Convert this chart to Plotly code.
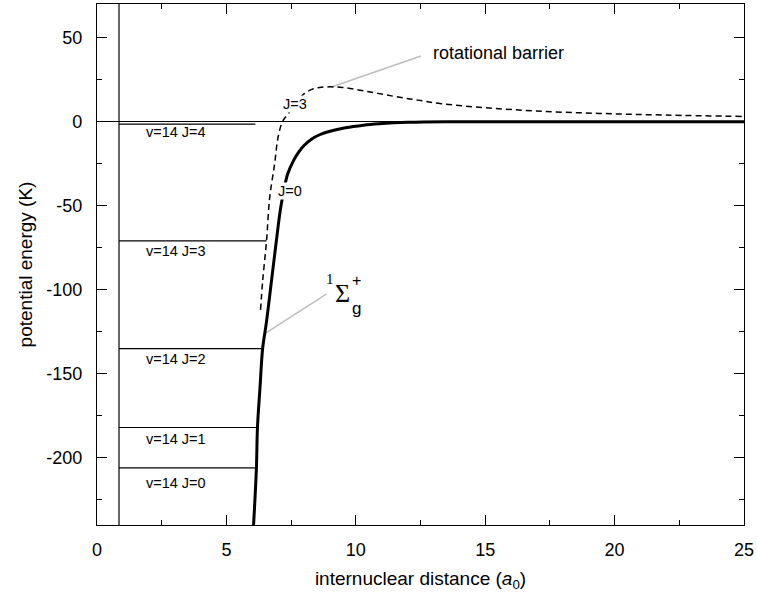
import plotly.graph_objects as go

# ---- data ----
# ground-state potential (J=0), solid
pot_x = [6.05, 6.16, 6.2, 6.3, 6.4, 6.55, 6.74, 6.93, 7.11, 7.37, 7.6, 7.8, 8.0, 8.3, 8.6, 9.0, 9.6, 10.3, 10.9, 12.0, 13.5, 25.0]
pot_y = [-240, -206, -182, -158, -135, -119, -95, -71, -50, -31, -23, -18, -14.2, -10.3, -7.8, -5.7, -3.6, -2.1, -1.3, -0.4, 0.0, 0.0]

# effective potential with rotational barrier (J=3), dashed
rot_x = [6.32, 6.4, 6.55, 6.67, 6.86, 7.0, 7.17, 7.4, 7.7, 8.0, 8.3, 8.6, 9.0, 9.5, 10.5, 11.5, 12.4, 13.3, 15.0, 17.0, 19.4, 22.0, 25.0]
rot_y = [-112, -95, -71, -45.5, -25.5, -9, 0, 5, 11.5, 16.5, 19.2, 20.3, 20.7, 20.3, 17.8, 15.0, 12.8, 10.7, 8.3, 6.3, 4.9, 3.9, 3.1]

# bound levels v=14, J=0..4
level_names = ["v=14 J=4", "v=14 J=3", "v=14 J=2", "v=14 J=1", "v=14 J=0"]
level_E = [-1.5, -71, -135, -182, -206]
level_xend = [6.12, 6.55, 6.39, 6.2, 6.16]
level_xstart = 0.85
level_label_y = [-6, -77, -141, -189, -215]
level_label_x = 3.04

# reference vertical line
vline_x = [0.85, 0.85]
vline_y = [-240, 70]

# pointer lines
barrier_ptr_x = [9.09, 12.52]
barrier_ptr_y = [20.8, 39.1]
sigma_ptr_x = [6.47, 8.86]
sigma_ptr_y = [-126.3, -102.6]

# axes
x_range = [0, 25]
y_range = [-240, 70]
x_tickvals = [0, 5, 10, 15, 20, 25]
x_ticktext = ["0", "5", "10", "15", "20", "25"]
y_tickvals = [50, 0, -50, -100, -150, -200]
y_ticktext = ["50", "0", "-50", "-100", "-150", "-200"]

fig = go.Figure()

fig.add_trace(go.Scatter(x=vline_x, y=vline_y, mode="lines",
                         line=dict(color="black", width=1.2), hoverinfo="skip", showlegend=False))

for E, xe in zip(level_E, level_xend):
    fig.add_trace(go.Scatter(x=[level_xstart, xe], y=[E, E], mode="lines",
                             line=dict(color="black", width=1.2), showlegend=False))

fig.add_trace(go.Scatter(x=barrier_ptr_x, y=barrier_ptr_y, mode="lines",
                         line=dict(color="#bdbdbd", width=1.5), showlegend=False))
fig.add_trace(go.Scatter(x=sigma_ptr_x, y=sigma_ptr_y, mode="lines",
                         line=dict(color="#bdbdbd", width=1.5), showlegend=False))

fig.add_trace(go.Scatter(x=rot_x, y=rot_y, mode="lines", line_shape="spline",
                         line=dict(color="black", width=1.5, dash="6px,4px"), showlegend=False))
fig.add_trace(go.Scatter(x=pot_x, y=pot_y, mode="lines", line_shape="spline",
                         line=dict(color="black", width=3), showlegend=False))

font_main = "Liberation Sans, Arial, sans-serif"
ann = []
for name, ly in zip(level_names, level_label_y):
    ann.append(dict(x=level_label_x, y=ly, text=name, showarrow=False,
                    font=dict(size=14.5, color="black", family=font_main)))
ann.append(dict(x=7.66, y=10.5, text="J=3", showarrow=False, bgcolor="white", borderpad=0,
                font=dict(size=14.5, color="black", family=font_main)))
ann.append(dict(x=7.46, y=-41, text="J=0", showarrow=False, bgcolor="white", borderpad=0,
                font=dict(size=14.5, color="black", family=font_main)))
ann.append(dict(x=12.9, y=41, text="rotational barrier", showarrow=False, xanchor="left",
                font=dict(size=18, color="black", family=font_main)))
serif = "Liberation Serif, Times New Roman, serif"
ann.append(dict(x=9.01, y=-93.7, text="1", showarrow=False, font=dict(size=15, color="black", family=serif)))
ann.append(dict(x=9.48, y=-102, text="Σ", showarrow=False, font=dict(size=26, color="black", family=serif)))
ann.append(dict(x=10.02, y=-94.3, text="+", showarrow=False, font=dict(size=16, color="black", family=font_main)))
ann.append(dict(x=10.02, y=-111, text="g", showarrow=False, font=dict(size=17, color="black", family=font_main)))

axis_common = dict(showline=True, linecolor="black", linewidth=1.3, mirror="ticks",
                   ticks="inside", ticklen=10, tickwidth=1.3, tickcolor="black",
                   showgrid=False, tickfont=dict(size=18, color="black", family=font_main))

fig.update_layout(
    width=757, height=603,
    margin=dict(l=97, r=11, t=3, b=78),
    plot_bgcolor="white", paper_bgcolor="white",
    annotations=ann,
    xaxis=dict(range=x_range, tickmode="array", tickvals=x_tickvals, ticktext=x_ticktext, zeroline=False,
               title=dict(text="internuclear distance (<i>a</i><sub>0</sub>)",
                          font=dict(size=19, color="black", family=font_main), standoff=12),
               ticklabelstandoff=8,
               minor=dict(ticks="inside", ticklen=5, tickwidth=1.3, tickcolor="black", showgrid=False,
                          tickmode="linear", tick0=0, dtick=2.5),
               **axis_common),
    yaxis=dict(range=y_range, tickmode="array", tickvals=y_tickvals, ticktext=y_ticktext,
               zeroline=True, zerolinecolor="black", zerolinewidth=1.3,
               title=dict(text="potential energy (K)",
                          font=dict(size=19, color="black", family=font_main), standoff=8),
               ticklabelstandoff=10,
               minor=dict(ticks="inside", ticklen=5, tickwidth=1.3, tickcolor="black", showgrid=False,
                          tickmode="linear", tick0=0, dtick=25),
               **axis_common),
)

fig.write_html("out.html")
